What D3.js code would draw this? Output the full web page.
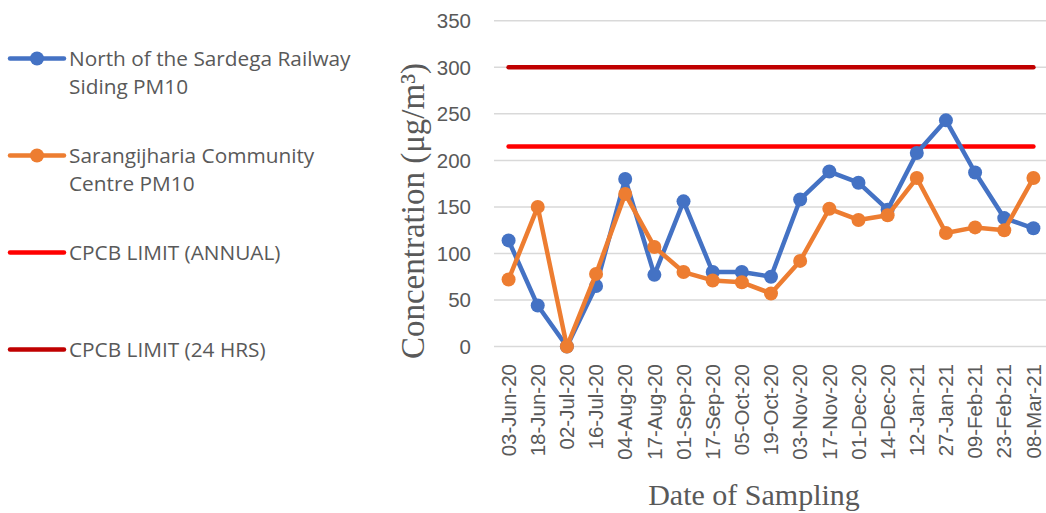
<!DOCTYPE html>
<html><head><meta charset="utf-8">
<script src="https://cdn.jsdelivr.net/npm/d3@7"></script>
<style>body{margin:0;background:#fff}svg{display:block}</style>
</head><body>
<svg id="c" width="1046" height="513"></svg>
<script>
const categories = ["03-Jun-20","18-Jun-20","02-Jul-20","16-Jul-20","04-Aug-20","17-Aug-20","01-Sep-20","17-Sep-20","05-Oct-20","19-Oct-20","03-Nov-20","17-Nov-20","01-Dec-20","14-Dec-20","12-Jan-21","27-Jan-21","09-Feb-21","23-Feb-21","08-Mar-21"];
const sardega = [114,44,0,65,180,77,156,80,80,75,158,188,176,147,208,243,187,138,127];
const sarangijharia = [72,150,0,78,164,107,80,71,69,57,92,148,136,141,181,122,128,125,181];
const limitAnnual = 215;
const limit24 = 300;
const yTicks = [0,50,100,150,200,250,300,350];
const legendLabels = [["North of the Sardega Railway","Siding PM10"],["Sarangijharia Community","Centre PM10"],["CPCB LIMIT (ANNUAL)"],["CPCB LIMIT (24 HRS)"]];

const svg = d3.select("#c");
const x = d3.scalePoint().domain(categories).range([494, 1048]).padding(0.5);
const y = d3.scaleLinear().domain([0,350]).range([346.5, 20.8]);

// gridlines
svg.append("g").selectAll("line").data(yTicks).join("line")
  .attr("x1",494).attr("x2",1046).attr("y1",d=>y(d)).attr("y2",d=>y(d))
  .attr("stroke","#d9d9d9").attr("stroke-width",1.5);

// y tick labels
svg.append("g").selectAll("text").data(yTicks).join("text")
  .attr("x",471).attr("y",d=>y(d)).attr("dy","0.35em").attr("text-anchor","end")
  .attr("font-family","Liberation Sans, Arial, sans-serif").attr("font-size",20.5).attr("fill","#595959")
  .text(d=>d);

// x tick labels
svg.append("g").selectAll("text").data(categories).join("text")
  .attr("transform",d=>`translate(${x(d)},364) rotate(-90)`).attr("dy","0.35em").attr("text-anchor","end")
  .attr("font-family","Liberation Sans, Arial, sans-serif").attr("font-size",20.5).attr("fill","#595959")
  .text(d=>d);

// axis titles
svg.append("text").attr("transform","translate(424,211) rotate(-90)").attr("text-anchor","middle")
  .attr("font-family","Liberation Serif, Times New Roman, serif").attr("font-size",33).attr("fill","#595959")
  .text("Concentration (μg/m³)");
svg.append("text").attr("x",754).attr("y",505).attr("text-anchor","middle")
  .attr("font-family","Liberation Serif, Times New Roman, serif").attr("font-size",30).attr("fill","#595959")
  .text("Date of Sampling");

// limit lines
const first = categories[0], last = categories[categories.length-1];
[[limit24,"#c00000"],[limitAnnual,"#ff0000"]].forEach(([v,c])=>{
  svg.append("line").attr("x1",x(first)).attr("x2",x(last)).attr("y1",y(v)).attr("y2",y(v))
    .attr("stroke",c).attr("stroke-width",4.5).attr("stroke-linecap","round");
});

// series
const line = d3.line().x((d,i)=>x(categories[i])).y(d=>y(d));
[[sardega,"#4472c4"],[sarangijharia,"#ed7d31"]].forEach(([vals,c])=>{
  const g = svg.append("g");
  g.append("path").datum(vals).attr("d",line).attr("fill","none").attr("stroke",c)
    .attr("stroke-width",4.5).attr("stroke-linejoin","round").attr("stroke-linecap","round");
  g.selectAll("circle").data(vals).join("circle")
    .attr("cx",(d,i)=>x(categories[i])).attr("cy",d=>y(d)).attr("r",7).attr("fill",c);
});

// legend
const legColors = ["#4472c4","#ed7d31","#ff0000","#c00000"];
const legY = [58.5,155.5,252.5,349.5];
legendLabels.forEach((lines,i)=>{
  const g = svg.append("g");
  g.append("line").attr("x1",10).attr("x2",64).attr("y1",legY[i]).attr("y2",legY[i])
    .attr("stroke",legColors[i]).attr("stroke-width",4.5).attr("stroke-linecap","round");
  if(i<2) g.append("circle").attr("cx",37).attr("cy",legY[i]).attr("r",7).attr("fill",legColors[i]);
  lines.forEach((t,j)=>{
    g.append("text").attr("x",69).attr("y",legY[i]+7.5+j*27.8)
      .attr("font-family","Open Sans, Noto Sans, sans-serif").attr("font-size",20.8).attr("fill","#595959")
      .text(t);
  });
});
</script>
</body></html>
